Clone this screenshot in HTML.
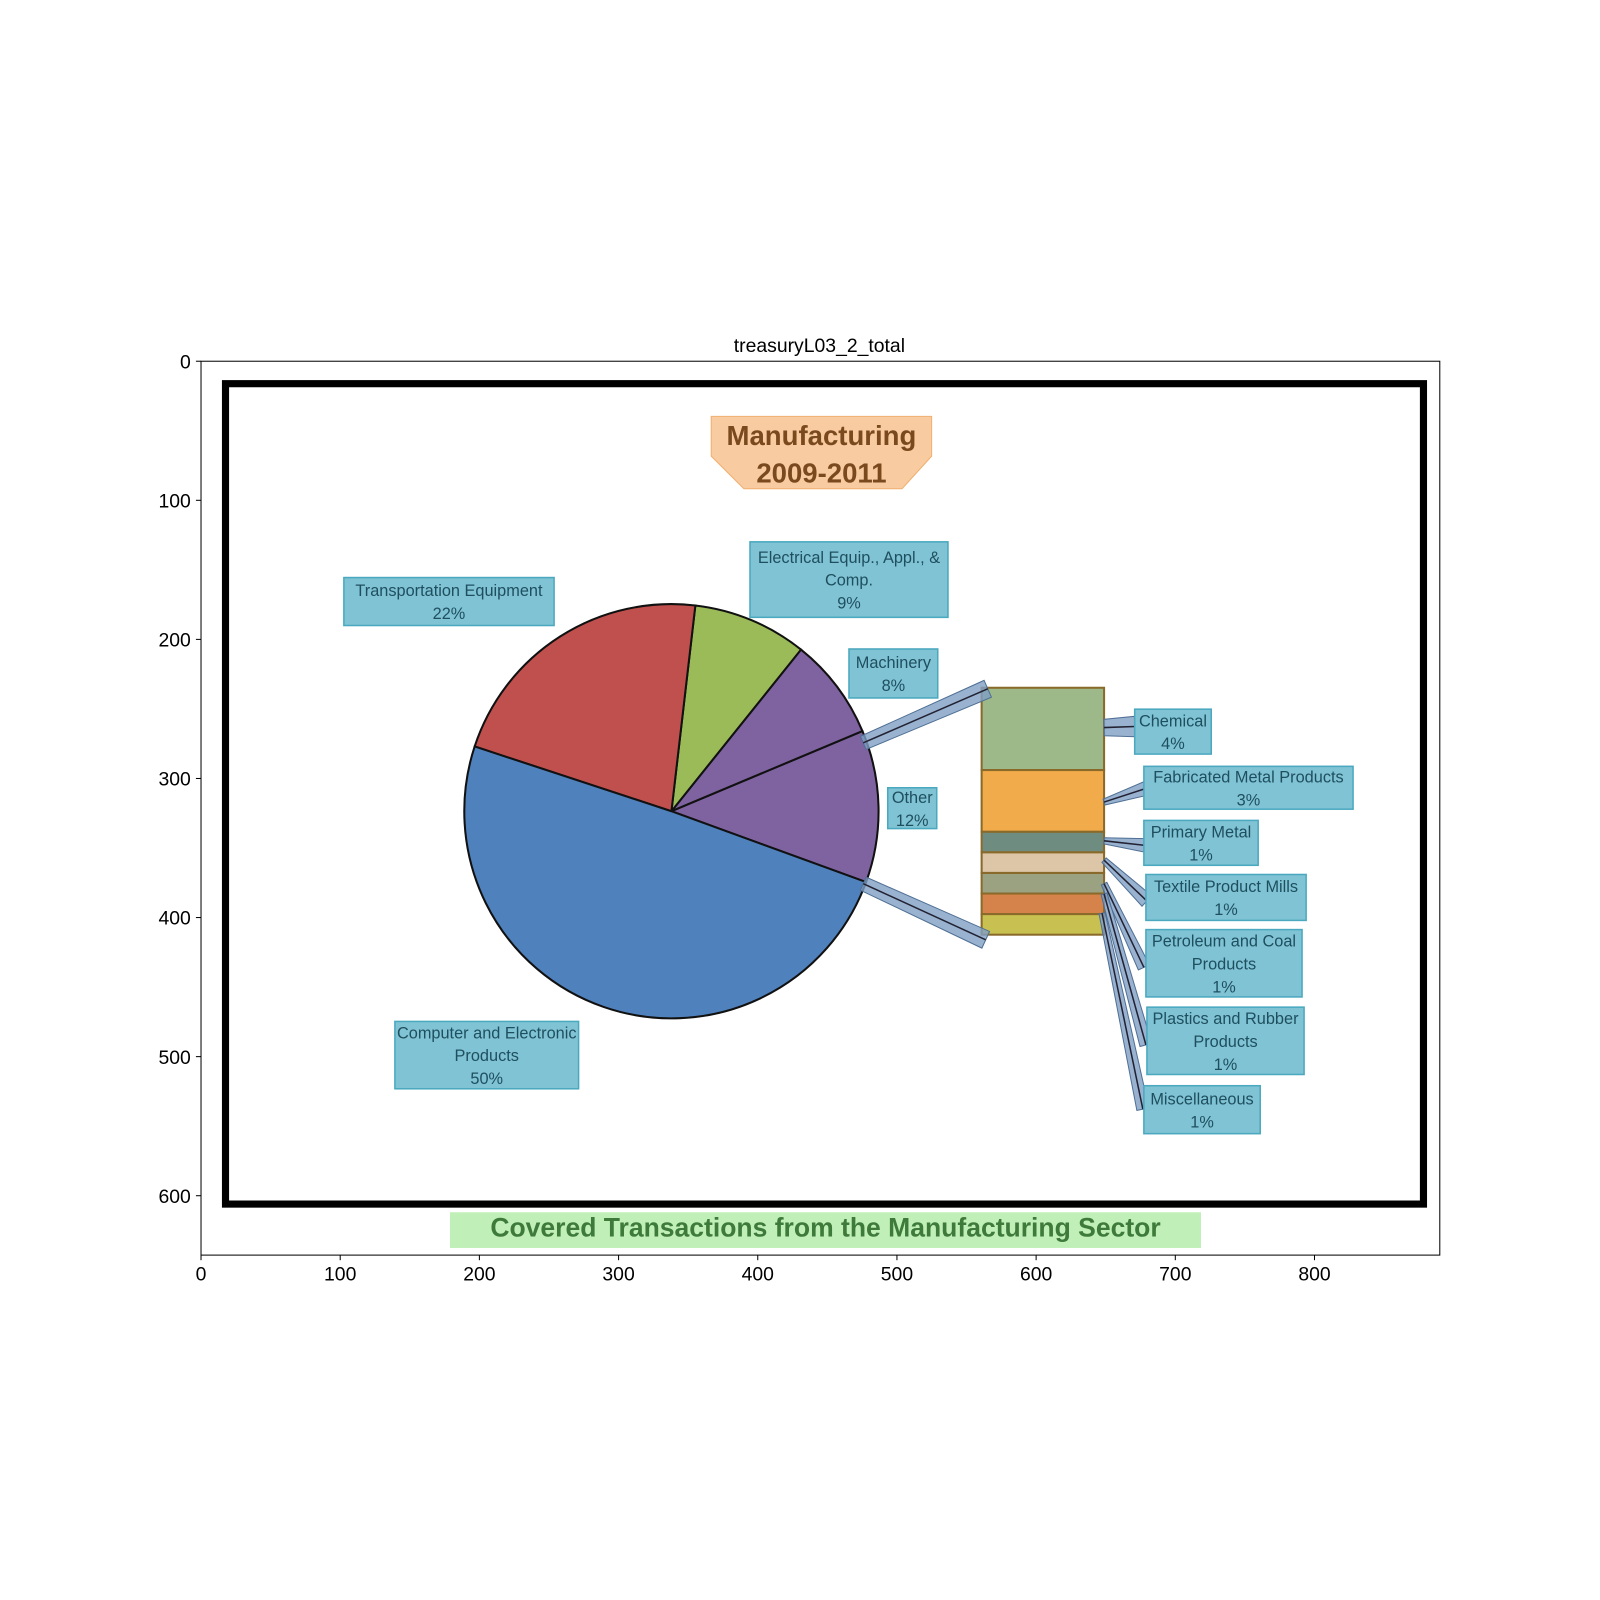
<!DOCTYPE html>
<html><head><meta charset="utf-8"><style>
body{margin:0;background:#fff}
svg{display:block;font-family:"Liberation Sans","DejaVu Sans",sans-serif}
</style></head><body>
<svg id="c" width="1600" height="1600" viewBox="0 0 1568 1568">
<text x="803" y="345" font-size="19" text-anchor="middle">treasuryL03_2_total</text>
<rect x="197" y="354" width="1214" height="876" fill="#fff" stroke="#000" stroke-width="1"/>
<rect x="221" y="376" width="1174" height="804" fill="none" stroke="#000" stroke-width="7"/>
<polygon points="697,408 913,408 913,447 884,479 729,479 697,447" fill="#f8cba0" stroke="#f0b070"/>
<text x="805" y="436" font-size="27" font-weight="bold" fill="#7a4a1e" text-anchor="middle">Manufacturing</text>
<text x="805" y="473" font-size="27" font-weight="bold" fill="#7a4a1e" text-anchor="middle">2009-2011</text>
<rect x="441" y="1188" width="736" height="35" fill="#c0efb8"/>
<text x="809" y="1212" font-size="26" font-weight="bold" fill="#3e7a3a" text-anchor="middle">Covered Transactions from the Manufacturing Sector</text>
<g id="pie"></g><g id="bar"></g><g id="arrows"></g><g id="labels"></g><g id="axes"></g>
</svg>
<script>
const pieNames=["Other","Machinery","Electrical","Transportation","Computer"];
const pieValues=[12,8,9,22,50];
const pieColors=["#7f62a0","#7f62a0","#9bbb59","#c0504d","#4f81bd"];
const barNames=["Chemical","Fabricated Metal","Primary Metal","Textile","Petroleum","Plastics","Misc"];
const barValues=[4,3,1,1,1,1,1];
const barColors=["#9db98a","#f2ab4a","#6f8c80","#dcc6a7","#9aa282","#d6834b","#c8c050"];
const xTicks=[0,100,200,300,400,500,600,700,800];
const yTicks=[0,100,200,300,400,500,600];
const NS="http://www.w3.org/2000/svg";
function mk(p,t,a){const e=document.createElementNS(NS,t);for(const k in a)e.setAttribute(k,a[k]);p.appendChild(e);return e;}
const X=v=>197+v*1.364, Y=v=>354+v*1.363;
const cx=658,cy=795,r=203;const pg=document.getElementById('pie');
const tot=pieValues.reduce((a,b)=>a+b,0);let ang=-20;
pieValues.forEach((v,i)=>{const a2=ang+v/tot*360;const p=a=>[cx+r*Math.cos(a*Math.PI/180),cy-r*Math.sin(a*Math.PI/180)];
const s=p(ang),e=p(a2);const el=mk(pg,'path',{d:`M${cx},${cy}L${s[0]},${s[1]}A${r},${r} 0 ${a2-ang>180?1:0} 0 ${e[0]},${e[1]}Z`,fill:pieColors[i],stroke:'#111','stroke-width':2});

ang=a2;});
const bg=document.getElementById('bar');const bt=barValues.reduce((a,b)=>a+b,0);let by=674;const bh=242;
barValues.forEach((v,i)=>{const h=v/bt*bh;const el=mk(bg,'rect',{x:962,y:by,width:120,height:h,fill:barColors[i],stroke:'#8a6a2a','stroke-width':2});

by+=h;});
const ag=document.getElementById('arrows');
function arrow(x1,y1,x2,y2,w1,w2,n){const dx=x2-x1,dy=y2-y1,L=Math.hypot(dx,dy),nx=-dy/L,ny=dx/L;
const el=mk(ag,'polygon',{points:`${x1+nx*w1},${y1+ny*w1} ${x2+nx*w2},${y2+ny*w2} ${x2-nx*w2},${y2-ny*w2} ${x1-nx*w1},${y1-ny*w1}`,fill:'#7f9fc4','fill-opacity':0.8,stroke:'#4f6f94','stroke-width':1});


mk(ag,'line',{x1:x1,y1:y1,x2:x2,y2:y2,stroke:'#223','stroke-width':1.5});}
arrow(846,728,968,675,7,9,'connector-top');
arrow(846,866,966,921,7,9,'connector-bottom');
arrow(1082,713,1112,712,8,10,'arrow-chemical');
arrow(1082,786,1125,772,3,7,'arrow-fabricated');
arrow(1082,824,1127,829,3,7,'arrow-primary');
arrow(1082,843,1124,883,3,7,'arrow-textile');
arrow(1082,866,1121,948,3,6,'arrow-petroleum');
arrow(1082,876,1123,1024,3,6,'arrow-plastics');
arrow(1080,895,1120,1087,3,6,'arrow-misc');
const lg=document.getElementById('labels');
const labels=[[337,566,206,47,["Transportation Equipment","22%"],'label-transportation'],
[735,531,194,74,["Electrical Equip., Appl., &","Comp.","9%"],'label-electrical'],
[832,636,87,48,["Machinery","8%"],'label-machinery'],
[870,772,48,40,["Other","12%"],'label-other'],
[387,1001,180,66,["Computer and Electronic","Products","50%"],'label-computer'],
[1112,695,75,44,["Chemical","4%"],'label-chemical'],
[1121,751,205,42,["Fabricated Metal Products","3%"],'label-fabricated'],
[1121,804,112,44,["Primary Metal","1%"],'label-primary'],
[1123,857,157,45,["Textile Product Mills","1%"],'label-textile'],
[1123,911,153,66,["Petroleum and Coal","Products","1%"],'label-petroleum'],
[1124,987,154,66,["Plastics and Rubber","Products","1%"],'label-plastics'],
[1121,1064,114,47,["Miscellaneous","1%"],'label-misc']];
labels.forEach(([x,y,w,h,lines,n])=>{const g=mk(lg,'g',{});


mk(g,'rect',{x:x,y:y,width:w,height:h,fill:'#7fc3d4',stroke:'#4aa8bf','stroke-width':1.5});
const lh=22.5;const y0=y+h/2-(lines.length-1)*lh/2+6;
lines.forEach((t,i)=>{const te=mk(g,'text',{x:x+w/2,y:y0+i*lh,'font-size':16,fill:'#1f4f5f','text-anchor':'middle'});te.textContent=t;});});
const ax=document.getElementById('axes');
xTicks.forEach(v=>{mk(ax,'line',{x1:X(v),y1:1230,x2:X(v),y2:1235,stroke:'#000'});const t=mk(ax,'text',{x:X(v),y:1255,'font-size':19,'text-anchor':'middle'});t.textContent=v;

});
yTicks.forEach(v=>{mk(ax,'line',{x1:192,y1:Y(v),x2:197,y2:Y(v),stroke:'#000'});const t=mk(ax,'text',{x:187,y:Y(v)+7,'font-size':19,'text-anchor':'end'});t.textContent=v;

});
</script>
</body></html>
